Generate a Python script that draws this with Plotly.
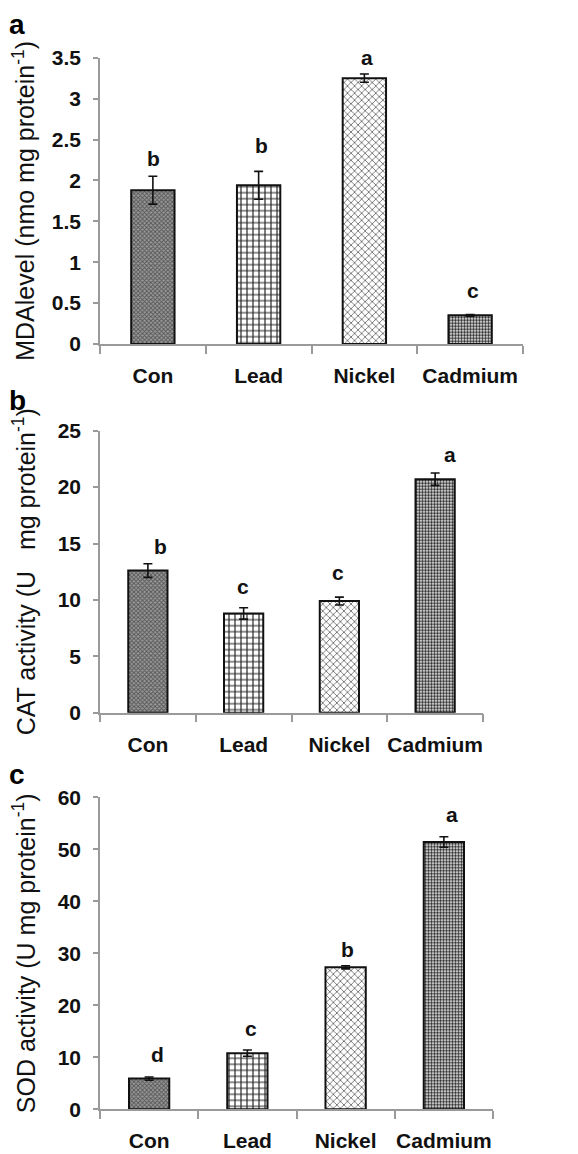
import plotly.graph_objects as go

categories = ["Con", "Lead", "Nickel", "Cadmium"]

mda_values = [1.88, 1.94, 3.25, 0.35]
mda_errors = [0.17, 0.17, 0.05, 0.01]
mda_letters = ["b", "b", "a", "c"]
mda_letter_y = [2.27, 2.43, 3.5, 0.66]

cat_values = [12.6, 8.8, 9.9, 20.7]
cat_errors = [0.6, 0.5, 0.35, 0.55]
cat_letters = ["b", "c", "c", "a"]
cat_letter_y = [14.7, 11.2, 12.4, 22.9]

sod_values = [5.9, 10.8, 27.3, 51.4]
sod_errors = [0.3, 0.6, 0.3, 1.0]
sod_letters = ["d", "c", "b", "a"]
sod_letter_y = [10.6, 15.6, 30.8, 56.6]

panel_labels = ["a", "b", "c"]
y_titles = [
    "MDAlevel (nmo mg protein<sup>-1</sup>)",
    "CAT activity (U   mg protein<sup>-1</sup>)",
    "SOD activity (U mg protein<sup>-1</sup>)",
]
y_ranges = [[0, 3.5], [0, 25], [0, 60]]
y_dticks = [0.5, 5, 10]

panels = [
    (mda_values, mda_errors, mda_letters, mda_letter_y),
    (cat_values, cat_errors, cat_letters, cat_letter_y),
    (sod_values, sod_errors, sod_letters, sod_letter_y),
]

# styling (page body has an 8px margin)
FONT = "Liberation Sans, Arial, sans-serif"
OFF = 8
W, H = 578 - OFF, 1154 - OFF
left = 100 - OFF
plot_w = W - left
x_right_px = [523 - OFF, 483 - OFF, 493 - OFF]
y_top_px = [57.7 - OFF, 430.7 - OFF, 797.3 - OFF]
y_bot_px = [344 - OFF, 712.7 - OFF, 1109.3 - OFF]
letter_xshift = [[1, 3, 3, 3], [13, -1, -1, 15], [8, 4, 2, 8]]
label_pos_px = [(17, 8), (17, 384), (17, 758)]

patterns = [
    dict(shape="x", size=3, solidity=0.5, fgcolor="#555555", bgcolor="#9a9a9a"),
    dict(shape="+", size=6, solidity=0.35, fgcolor="#222222", bgcolor="#ffffff"),
    dict(shape="x", size=5, solidity=0.3, fgcolor="#666666", bgcolor="#ffffff"),
    dict(shape=".", size=3, solidity=0.55, fgcolor="#222222", bgcolor="#ffffff"),
]

fig = go.Figure()

annotations = []
for i, (vals, errs, letters, ly) in enumerate(panels):
    n = i + 1
    xa = "x" if n == 1 else f"x{n}"
    ya = "y" if n == 1 else f"y{n}"
    for j, cat in enumerate(categories):
        p = patterns[j]
        fig.add_trace(go.Bar(
            x=[cat], y=[vals[j]],
            xaxis=xa, yaxis=ya,
            width=0.41,
            marker=dict(
                color=p["bgcolor"],
                line=dict(color="#111111", width=2),
                pattern=dict(
                    shape=p["shape"], size=p["size"], solidity=p["solidity"],
                    fgcolor=p["fgcolor"], bgcolor=p["bgcolor"], fillmode="replace",
                ),
            ),
            error_y=dict(type="data", array=[errs[j]], visible=True, color="#111111",
                         thickness=1.6, width=4.5),
            showlegend=False,
        ))
    xdom = [0, (x_right_px[i] - left) / plot_w]
    ydom = [1 - y_bot_px[i] / H, 1 - y_top_px[i] / H]
    xkey = "xaxis" if n == 1 else f"xaxis{n}"
    ykey = "yaxis" if n == 1 else f"yaxis{n}"
    fig.update_layout(**{
        xkey: dict(
            domain=xdom, anchor=ya, type="category", automargin=False,
            categoryorder="array", categoryarray=categories,
            showline=True, linecolor="#9a9a9a", linewidth=1.5,
            ticks="outside", tickson="boundaries", ticklen=8, tickcolor="#9a9a9a",
            tickwidth=1.5, showgrid=False, zeroline=False, tickangle=0,
            tickfont=dict(family=FONT, size=21, color="#111111", weight="bold"),
            ticklabelstandoff=12,
            range=[-0.5, 3.5],
        ),
        ykey: dict(
            domain=ydom, anchor=xa, range=y_ranges[i], dtick=y_dticks[i], tick0=0,
            automargin=False,
            showline=True, linecolor="#9a9a9a", linewidth=1.5,
            ticks="outside", ticklen=5, tickcolor="#9a9a9a", tickwidth=1.5,
            showgrid=False, zeroline=False,
            tickfont=dict(family=FONT, size=21, color="#111111", weight="bold"),
            ticklabelstandoff=8,
            title=dict(text=y_titles[i], font=dict(family=FONT, size=25, color="#111111"),
                       standoff=15),
        ),
    })
    for j, (cat, let, yv) in enumerate(zip(categories, letters, ly)):
        annotations.append(dict(
            x=cat, y=yv, xref=xa, yref=ya, text=let, showarrow=False,
            xshift=letter_xshift[i][j],
            font=dict(family=FONT, size=21, color="#111111", weight="bold"),
        ))
    lx, lyp = label_pos_px[i]
    annotations.append(dict(
        x=(lx - OFF - left) / plot_w, y=1 - (lyp - OFF) / H,
        xref="paper", yref="paper", borderpad=0,
        text=panel_labels[i], showarrow=False, xanchor="center", yanchor="top",
        font=dict(family=FONT, size=28, color="#000000", weight="bold"),
    ))

fig.update_layout(
    width=W, height=H,
    margin=dict(l=left, r=0, t=0, b=0, autoexpand=False),
    paper_bgcolor="white", plot_bgcolor="white",
    annotations=annotations,
    barmode="overlay",
)

fig.write_html("out.html")
